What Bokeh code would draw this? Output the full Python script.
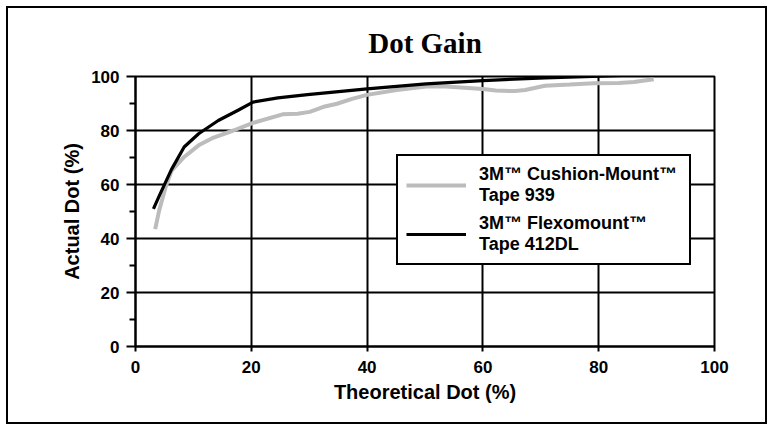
from bokeh.plotting import figure
from bokeh.models import Legend, LegendItem, FixedTicker, Range1d
from bokeh.embed import file_html
from bokeh.resources import INLINE

# ---- data ----
theoretical_939 = [3.4, 4.1, 5.2, 6.2, 8.4, 10.9, 13.5, 16.9, 20.3, 25.4, 28.0, 30.1, 32.7,
                   34.8, 37.4, 40.0, 45.1, 50.2, 53.6, 60.0, 62.2, 65.6, 67.3, 70.7, 75.0,
                   79.2, 83.5, 86.1, 89.5]
actual_939 = [43.5, 50.5, 59.0, 65.0, 70.2, 74.5, 77.4, 80.0, 82.8, 86.0, 86.2, 86.9, 88.9,
              89.9, 91.7, 93.2, 95.0, 96.3, 96.3, 95.4, 94.8, 94.6, 95.0, 96.6, 97.0,
              97.5, 97.6, 98.0, 99.0]

theoretical_412 = [3.1, 4.1, 6.2, 8.4, 10.9, 14.3, 17.8, 20.3, 24.6, 29.7, 40.0, 50.2,
                   60.0, 70.7, 80.3, 89.3]
actual_412 = [51.0, 55.8, 65.5, 73.9, 78.8, 83.7, 87.6, 90.5, 92.1, 93.3, 95.4, 97.3,
              98.5, 99.5, 100.1, 100.8]

x_ticks = [0, 20, 40, 60, 80, 100]
y_ticks = [0, 20, 40, 60, 80, 100]
y_minor_ticks = [10, 30, 50, 70, 90]
series_labels = ["3M\u2122 Cushion-Mount\u2122\nTape 939", "3M\u2122 Flexomount\u2122\nTape 412DL"]

SANS = "Liberation Sans"

p = figure(width=761, height=418, x_range=Range1d(0, 100), y_range=Range1d(0, 100),
           output_backend="svg", toolbar_location=None,
           min_border_left=127, min_border_right=55, min_border_top=68, min_border_bottom=80,
           title="Dot Gain", styles={"border": "2px solid black"}, margin=(6, 0, 0, 6))

p.title.text_font = "Liberation Serif"
p.title.text_font_style = "bold"
p.title.text_font_size = "29px"
p.title.align = "center"
p.title.vertical_align = "top"
p.title.text_color = "black"
p.title.standoff = 31

p.outline_line_color = "black"
p.outline_line_width = 2
p.outline_line_alpha = 1

r939 = p.line(theoretical_939, actual_939, line_color="#bcbcbc", line_width=4)
r412 = p.line(theoretical_412, actual_412, line_color="black", line_width=3.2)

for ax in (p.xaxis[0], p.yaxis[0]):
    ax.axis_line_color = "black"
    ax.axis_line_width = 2
    ax.major_tick_line_color = "black"
    ax.major_tick_line_width = 2
    ax.minor_tick_line_color = "black"
    ax.minor_tick_line_width = 2
    ax.major_tick_in = 0
    ax.minor_tick_in = 0
    ax.major_label_text_font = SANS
    ax.major_label_text_font_style = "bold"
    ax.major_label_text_font_size = "17px"
    ax.major_label_text_color = "black"
    ax.axis_label_text_color = "black"
    ax.axis_label_text_font = SANS
    ax.axis_label_text_font_style = "bold"
    ax.axis_label_text_font_size = "20px"

p.xaxis[0].ticker = FixedTicker(ticks=x_ticks)
p.xaxis[0].major_tick_out = 5
p.xaxis[0].minor_tick_out = 0
p.xaxis[0].major_label_standoff = 9
p.xaxis[0].axis_label = "Theoretical Dot (%)"
p.xaxis[0].axis_label_standoff = 5

p.yaxis[0].ticker = FixedTicker(ticks=y_ticks, minor_ticks=y_minor_ticks)
p.yaxis[0].major_tick_out = 9
p.yaxis[0].minor_tick_out = 6
p.yaxis[0].major_label_standoff = 7
p.yaxis[0].axis_label = "Actual Dot (%)"
p.yaxis[0].axis_label_standoff = 5

for g in (p.xgrid[0], p.ygrid[0]):
    g.grid_line_color = "black"
    g.grid_line_width = 2
    g.grid_line_alpha = 1
p.xgrid[0].ticker = FixedTicker(ticks=x_ticks)
p.ygrid[0].ticker = FixedTicker(ticks=y_ticks)

legend = Legend(
    items=[LegendItem(label=series_labels[0], renderers=[r939]),
           LegendItem(label=series_labels[1], renderers=[r412])],
    location=(261, 81),
    border_line_color="black", border_line_width=2.5, border_line_alpha=1,
    background_fill_color="white", background_fill_alpha=1,
    label_text_font=SANS, label_text_font_style="bold", label_text_font_size="18px",
    label_text_line_height=1.11, label_text_color="black",
    glyph_width=60, glyph_height=20, label_standoff=13, label_width=202,
    padding=8, spacing=7, margin=0,
)
p.add_layout(legend)

open("out.html", "w").write(file_html(p, INLINE))
